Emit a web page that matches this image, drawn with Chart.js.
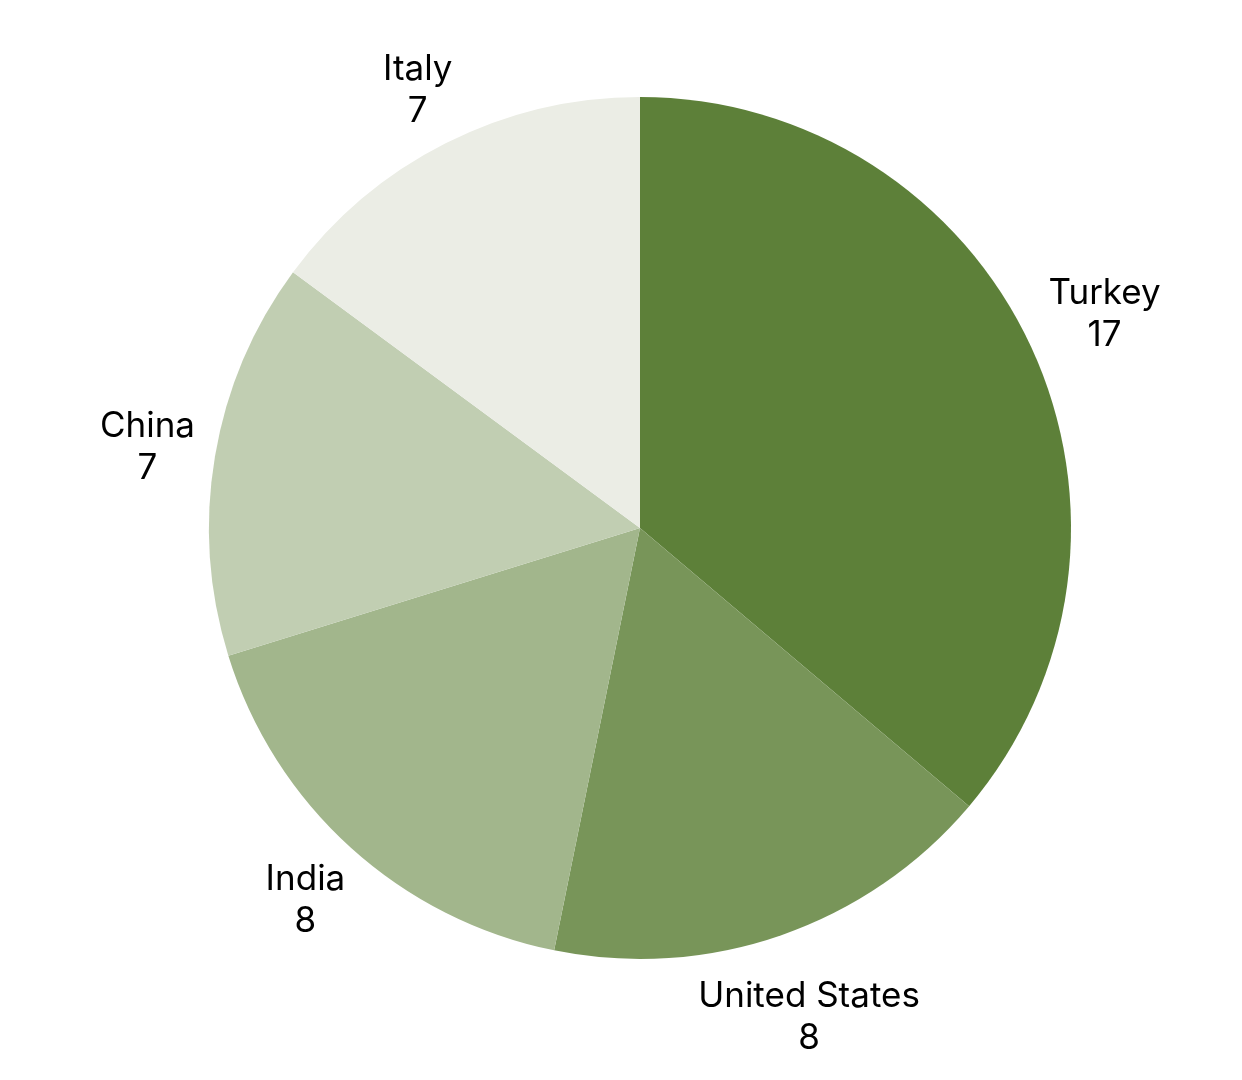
<!DOCTYPE html>
<html>
<head>
<meta charset="utf-8">
<script src="https://cdn.jsdelivr.net/npm/chart.js@4/dist/chart.umd.min.js"></script>
<style>
  html, body { margin: 0; padding: 0; background: #ffffff; }
  #wrap { width: 1242px; height: 1080px; }
</style>
</head>
<body>
<div id="wrap"><canvas id="pieChart" width="1242" height="1080"></canvas></div>
<script>
'use strict';

const countries = ['Turkey', 'United States', 'India', 'China', 'Italy'];
const counts = [17, 8, 8, 7, 7];
const sliceColors = ['#5d8039', '#789559', '#a2b68c', '#c1ceb2', '#ebede5'];

// Outside labels: name on one line, value underneath, pushed out along the slice middle
const outsideLabels = {
  id: 'outsideLabels',
  afterDatasetsDraw(chart) {
    const ctx = chart.ctx;
    const meta = chart.getDatasetMeta(0);
    const fontSize = 35;
    const lineGap = 42;
    const capH = fontSize * 0.73;
    ctx.save();
    ctx.font = fontSize + 'px Inter';
    ctx.fillStyle = '#000000';
    ctx.textAlign = 'center';
    ctx.textBaseline = 'alphabetic';
    meta.data.forEach(function (arc, i) {
      const mid = (arc.startAngle + arc.endAngle) / 2;
      const dx = Math.cos(mid);
      const dy = Math.sin(mid);
      const lines = [countries[i], String(counts[i])];
      const w = Math.max.apply(null, lines.map(function (t) { return ctx.measureText(t).width; }));
      const h = lineGap + capH;
      const extent = Math.abs(dx) * w / 2 + Math.abs(dy) * h / 2;
      const d = arc.outerRadius + 16 + extent;
      const cx = arc.x + dx * d;
      const cy = arc.y + dy * d;
      const top = cy - h / 2;
      ctx.fillText(lines[0], cx, top + capH);
      ctx.fillText(lines[1], cx, top + capH + lineGap);
    });
    ctx.restore();
  }
};

document.addEventListener('DOMContentLoaded', function () {
  const ctx = document.getElementById('pieChart').getContext('2d');
  new Chart(ctx, {
    type: 'pie',
    data: {
      labels: countries,
      datasets: [{
        data: counts,
        backgroundColor: sliceColors,
        borderWidth: 0
      }]
    },
    options: {
      responsive: false,
      animation: false,
      layout: {
        padding: { top: 97, bottom: 121, left: 200, right: 162 }
      },
      plugins: {
        legend: { display: false },
        tooltip: { enabled: false }
      }
    },
    plugins: [outsideLabels]
  });
});
</script>
</body>
</html>
